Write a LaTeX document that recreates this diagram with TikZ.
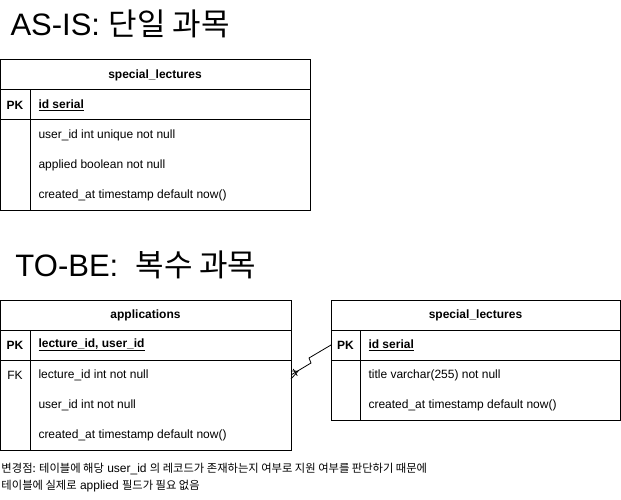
\documentclass[tikz,border=0pt]{standalone}
\usepackage{fontspec}
\setmainfont{Liberation Sans}
\newfontfamily\kr[Scale=0.94]{Noto Sans CJK KR}
\newfontfamily\krt{Noto Sans CJK KR}
\begin{document}
\begin{tikzpicture}[x=1pt,y=-1pt,line width=1pt,
  tbl/.style={draw,line width=1pt,anchor=north west,inner sep=0pt,outer sep=0pt},
  cell/.style={font=\fontsize{12}{14}\selectfont,inner sep=0pt,anchor=west},
  hdr/.style={font=\bfseries\fontsize{12}{14}\selectfont,inner sep=0pt},
  ttl/.style={anchor=base west,inner sep=0pt,font=\fontsize{31}{36}\selectfont},
  notetxt/.style={anchor=base west,inner sep=0pt,font=\fontsize{12}{17}\selectfont}]
\useasboundingbox (0,0) rectangle (621,500);

% titles
\node[ttl] (title1) at (10,36) {AS-IS: {\krt 단일 과목}};
\node[ttl] (title2) at (15,276) {TO-BE:\ \ {\krt 복수 과목}};

% AS-IS table
\node[tbl,minimum width=310pt,minimum height=150pt] (t1) at (0,60) {};
\draw (t1.west |- 0,90) -- (t1.east |- 0,90);
\draw (t1.west |- 0,120) -- (t1.east |- 0,120);
\draw (30,90) -- (30,210);
\node[hdr] (t1h) at (155,75) {special\_lectures};
\node[hdr] (t1pk) at (15,105) {PK};
\node[cell,font=\bfseries\fontsize{12}{14}\selectfont] (t1id) at (38,105) {\underline{id serial}};
\node[cell] (t1f1) at (38,135) {user\_id int unique not null};
\node[cell] (t1f2) at (38,165) {applied boolean not null};
\node[cell] (t1f3) at (38,195) {created\_at timestamp default now()};

% applications table
\node[tbl,minimum width=291pt,minimum height=150pt] (app) at (0,300) {};
\draw (app.west |- 0,330) -- (app.east |- 0,330);
\draw (app.west |- 0,360) -- (app.east |- 0,360);
\draw (30,330) -- (30,450);
\node[hdr] (apph) at (145.5,315) {applications};
\node[hdr] (apppk) at (15,345) {PK};
\node[cell,font=\bfseries\fontsize{12}{14}\selectfont] (appid) at (38,345) {\underline{lecture\_id, user\_id}};
\node[cell,anchor=center] (appfk) at (15,375) {FK};
\node[cell] (appf1) at (38,375) {lecture\_id int not null};
\node[cell] (appf2) at (38,405) {user\_id int not null};
\node[cell] (appf3) at (38,435) {created\_at timestamp default now()};

% special_lectures (TO-BE)
\node[tbl,minimum width=289pt,minimum height=120pt] (sl) at (331,300) {};
\draw (sl.west |- 0,330) -- (sl.east |- 0,330);
\draw (sl.west |- 0,360) -- (sl.east |- 0,360);
\draw (360,330) -- (360,420);
\node[hdr] (slh) at (475.5,315) {special\_lectures};
\node[hdr] (slpk) at (345.5,345) {PK};
\node[cell,font=\bfseries\fontsize{12}{14}\selectfont] (slid) at (368,345) {\underline{id serial}};
\node[cell] (slf1) at (368,375) {title varchar(255) not null};
\node[cell] (slf2) at (368,405) {created\_at timestamp default now()};

% connector
\coordinate (cs) at (app.east |- appfk);
\coordinate (ce) at (sl.west |- slpk);
\draw[line width=0.8pt] (cs) -- ++(20,-12) -- ++(-2,-5) -- (ce);
\draw[line width=0.8pt] (293.2,369.0) -- (297.3,375.8);
\draw[line width=0.8pt] (291,371) -- (298,371.2);
\draw[line width=0.8pt] (291,379) -- (298,371.2);

% note
\node[notetxt] (note1) at (1,472)
 {{\kr 변경점: 테이블에 해당} user\_id {\kr 의 레코드가 존재하는지 여부로 지원 여부를 판단하기 때문에}};
\node[notetxt] (note2) at (1,489)
 {{\kr 테이블에 실제로} applied {\kr 필드가 필요 없음}};
\end{tikzpicture}
\end{document}
